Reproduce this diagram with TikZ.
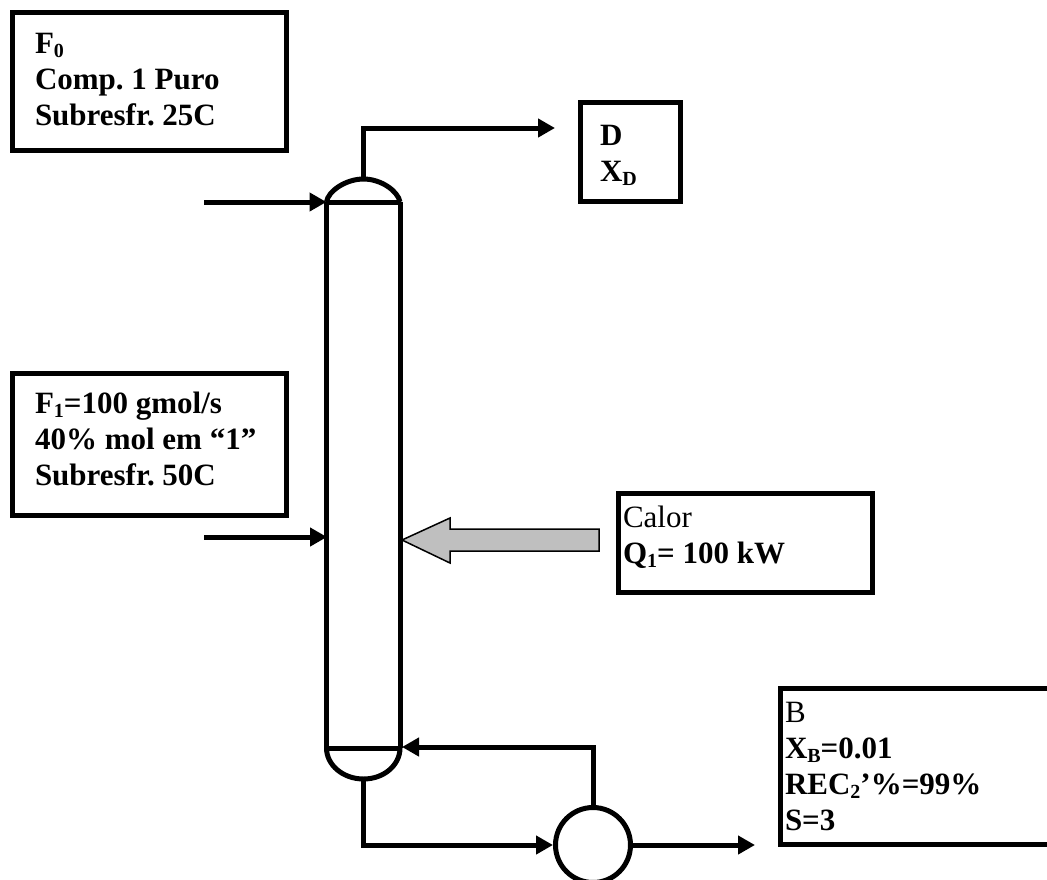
\documentclass[tikz,border=0pt]{standalone}
\usepackage{fontspec}
\setmainfont{Liberation Serif}
\usetikzlibrary{arrows.meta,shapes.geometric}
\newcommand{\sbs}[1]{\raisebox{-4pt}{\fontsize{20}{20}\selectfont #1}}
\newcommand{\updepth}[1]{\vrule depth #1 height 0pt width 0pt\relax}
\newcommand{\upheight}[1]{\vrule depth 0pt height #1 width 0pt\relax}
\tikzset{
  x=1pt,y=-1pt,
  infobox/.style={draw=black,line width=5pt,rectangle,anchor=north west,align=flush left,
    inner xsep=0pt,inner ysep=0pt,font=\fontsize{31}{36}\selectfont\frenchspacing},
  pipe/.style={draw=black,line width=5pt,line join=miter},
  flow/.style={pipe,-{Triangle[length=17pt,width=18pt]}},
  vessel/.style={draw=black,line width=5pt},
}
\begin{document}
\begin{tikzpicture}
\useasboundingbox (0,0) rectangle (1047,879);
% boxes
\node[infobox,minimum width=274pt,minimum height=138pt,text width=229pt] (f0) at (10,10)
  {\textbf{F\sbs{0}}\\\textbf{Comp. 1 Puro}\\\textbf{Subresfr. 25C}\updepth{5pt}};
\node[infobox,minimum width=274pt,minimum height=142pt,text width=229pt] (f1) at (10,371)
  {\textbf{F\sbs{1}=100 gmol/s}\\\mbox{\textbf{40\% mol em “1”}}\\\textbf{Subresfr. 50C}\updepth{12pt}};
\node[infobox,minimum width=100pt,minimum height=99pt,text width=61pt] (d) at (578,100)
  {\upheight{28pt}\textbf{D}\\\textbf{X\sbs{D}}};
\node[infobox,minimum width=254pt,minimum height=99pt,text width=245pt] (q) at (616,491)
  {Calor\\\textbf{Q\sbs{1}= 100 kW}\updepth{16pt}};
\node[infobox,minimum width=300pt,minimum height=156pt,text width=291pt] (b) at (778,686)
  {B\\\textbf{X\sbs{B}=0.01}\\\textbf{REC\sbs{2}’\%=99\%}\\\textbf{S=3}};
% column
\coordinate (tl) at (326.5,202);
\coordinate (tr) at (400,202);
\coordinate (bl) at (326.5,748);
\coordinate (br) at (400,748);
\coordinate (top) at (363.5,179);
\coordinate (bot) at (363.5,779);
\draw[vessel] (tl) -- (bl) (tr) -- (br) (tl) -- (tr) (bl) -- (br);
\draw[vessel] (tl) .. controls (328,191) and (346,179) .. (top) .. controls (381,179) and (398,191) .. (tr);
\draw[vessel] (bl) .. controls (326.5,765) and (343,779) .. (bot) .. controls (384,779) and (400,765) .. (br);
% reboiler
\node[draw=black,line width=5pt,ellipse,minimum width=75pt,minimum height=75pt,inner sep=0pt] (reb) at (593,845) {};
% connectors
\coordinate (df) at (555,128);
\coordinate (f0a) at (204,202);
\coordinate (f1a) at (204,537);
\coordinate (f1b) at (327,537);
\coordinate (bo) at (755,845);
\draw[flow] (top) -- (363.5,128) -- (df);
\draw[flow] (f0a) -- (tl);
\draw[flow] (f1a) -- (f1b);
\draw[flow] (reb.north) -- (593,747) -- (402,747);
\draw[flow] (bot) -- (363.5,845) -- (reb.west);
\draw[flow] (reb.east) -- (bo);
% heat arrow
\draw[draw=black,fill=black!25,line width=1.5pt,line join=miter]
  (402,540) -- (450,518) -- (450,529) -- (599,529) -- (599,551) -- (450,551) -- (450,563) -- cycle;
\end{tikzpicture}
\end{document}
